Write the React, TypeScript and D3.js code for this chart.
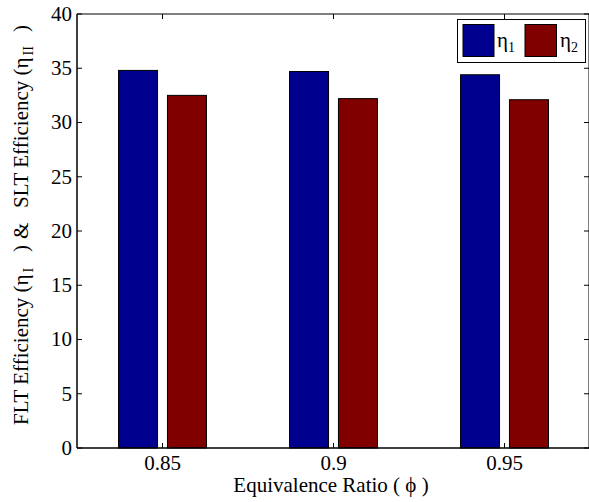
import React from "react";
import * as d3 from "d3";

const ratios = [0.85, 0.9, 0.95];
const etaOne = [34.8, 34.7, 34.4];
const etaTwo = [32.5, 32.2, 32.1];
const yTicks = [0, 5, 10, 15, 20, 25, 30, 35, 40];
const xTickLabels = ["0.85", "0.9", "0.95"];

const W = 589;
const H = 502;
const margin = { left: 77, top: 14, right: 590, bottom: 448 };
const BLUE = "#00008f";
const RED = "#800000";
const FONT = "'Liberation Serif', 'Times New Roman', serif";
const FS = 21;
const SUB = 14;

export default function App() {
  const x = d3.scaleLinear().domain([0.825, 0.975]).range([margin.left, margin.right]);
  const y = d3.scaleLinear().domain([0, 40]).range([margin.bottom, margin.top]);
  const step = x(0.9) - x(0.85);
  const barW = step * 0.228;
  const offset = step * 0.143;

  return (
    <svg width={W} height={H} style={{ position: "absolute", left: 0, top: 0 }} fontFamily={FONT}>
      <rect x={0} y={0} width={W} height={H} fill="#fff" />
      {/* bars */}
      {ratios.map((r, i) => (
        <g key={r}>
          <rect
            x={x(r) - offset - barW / 2}
            y={y(etaOne[i])}
            width={barW}
            height={y(0) - y(etaOne[i])}
            fill={BLUE}
            stroke="#000"
            strokeWidth={1}
          />
          <rect
            x={x(r) + offset - barW / 2}
            y={y(etaTwo[i])}
            width={barW}
            height={y(0) - y(etaTwo[i])}
            fill={RED}
            stroke="#000"
            strokeWidth={1}
          />
        </g>
      ))}
      {/* axes frame */}
      <line x1={margin.left} x2={margin.right} y1={margin.top} y2={margin.top} stroke="#000" />
      <line x1={margin.left} x2={margin.right} y1={margin.bottom} y2={margin.bottom} stroke="#000" strokeWidth={1.5} />
      <line x1={margin.left} x2={margin.left} y1={margin.top} y2={margin.bottom} stroke="#000" strokeWidth={1.5} />
      <line x1={margin.right - 1} x2={margin.right - 1} y1={margin.top} y2={margin.bottom} stroke="#000" />
      {/* y ticks */}
      {yTicks.map((t) => (
        <g key={t}>
          <line x1={margin.left} x2={margin.left + 5} y1={y(t)} y2={y(t)} stroke="#000" />
          <line x1={margin.right - 6} x2={margin.right - 1} y1={y(t)} y2={y(t)} stroke="#000" />
          <text x={margin.left - 5} y={y(t)} dy="0.33em" textAnchor="end" fontSize={FS}>
            {t}
          </text>
        </g>
      ))}
      {/* x ticks */}
      {ratios.map((r, i) => (
        <g key={r}>
          <line x1={x(r)} x2={x(r)} y1={margin.bottom} y2={margin.bottom - 5} stroke="#000" />
          <line x1={x(r)} x2={x(r)} y1={margin.top} y2={margin.top + 5} stroke="#000" />
          <text x={x(r)} y={470} textAnchor="middle" fontSize={FS}>
            {xTickLabels[i]}
          </text>
        </g>
      ))}
      {/* axis titles */}
      <text x={331} y={492} textAnchor="middle" fontSize={FS}>
        Equivalence Ratio ( ϕ )
      </text>
      <g transform="translate(28, 0) rotate(-90)" fontSize={FS}>
        <text x={-425} y={0}>
          FLT Efficiency (η
          <tspan fontSize={SUB} dy={5} dx={2}>I</tspan>
        </text>
        <text x={-252} y={0}>)</text>
        <text x={-239} y={0}>&amp;</text>
        <text x={-208} y={0}>
          SLT Efficiency (η
          <tspan fontSize={SUB} dy={5} dx={2}>II</tspan>
        </text>
        <text x={-32} y={0}>)</text>
      </g>
      {/* legend */}
      <rect x={457.5} y={19.5} width={128} height={43} fill="#fff" stroke="#000" />
      <rect x={463} y={24.5} width={31} height={32} fill={BLUE} stroke="#000" />
      <text x={497} y={47} fontSize={FS}>
        η<tspan fontSize={SUB} dy={5}>1</tspan>
      </text>
      <rect x={525} y={24.5} width={31.5} height={32} fill={RED} stroke="#000" />
      <text x={560} y={47} fontSize={FS}>
        η<tspan fontSize={SUB} dy={5}>2</tspan>
      </text>
    </svg>
  );
}
